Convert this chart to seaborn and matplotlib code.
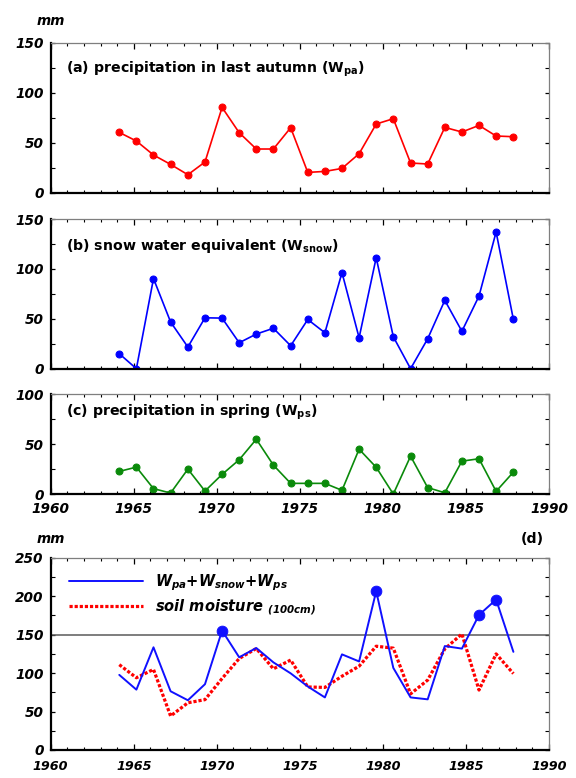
import matplotlib
matplotlib.use("Agg")
import matplotlib.pyplot as plt
from matplotlib.ticker import MultipleLocator
from matplotlib.lines import Line2D
import seaborn as sns
import pandas as pd

# ---------------- data ----------------
years = [1964.13, 1965.16, 1966.19, 1967.22, 1968.26, 1969.29, 1970.32, 1971.35,
         1972.38, 1973.41, 1974.45, 1975.48, 1976.51, 1977.54, 1978.57, 1979.60,
         1980.63, 1981.67, 1982.70, 1983.73, 1984.76, 1985.79, 1986.82, 1987.86]

w_pa = [60.3, 51.7, 37.7, 28.3, 18.0, 30.7, 85.3, 60.0, 43.7, 43.7, 65.0, 20.3,
        21.3, 24.3, 39.0, 68.7, 74.0, 29.7, 28.7, 65.3, 60.7, 67.3, 56.7, 56.0]

w_snow = [15.0, 0.0, 90.3, 46.8, 21.7, 51.0, 50.7, 26.0, 34.7, 40.5, 23.0, 49.3,
          36.0, 96.3, 31.0, 111.3, 32.0, 0.0, 30.0, 68.5, 37.5, 72.8, 137.0, 49.3]

w_ps = [22.7, 27.0, 5.4, 1.0, 25.0, 3.0, 19.7, 34.4, 55.0, 29.0, 10.7, 10.7,
        10.7, 3.7, 45.0, 26.8, 0.0, 38.0, 6.4, 1.3, 33.0, 35.4, 2.7, 22.0]

w_total = [97.7, 78.5, 133.6, 76.4, 64.7, 85.6, 155.3, 120.6, 132.7, 114.0, 99.7, 82.6,
           68.4, 124.4, 115.2, 206.6, 106.8, 68.4, 65.9, 135.2, 131.9, 175.7, 195.7, 127.7]

soil_moisture = [111.0, 94.0, 104.8, 44.2, 61.4, 65.5, 93.0, 119.0, 132.0, 105.6, 117.0, 82.0,
                 81.4, 96.0, 109.0, 135.0, 132.5, 73.0, 91.0, 131.5, 151.0, 78.0, 125.0, 99.4]

threshold = 150

titles = [r"(a) precipitation in last autumn (W$_{\mathrm{pa}}$)",
          r"(b) snow water equivalent (W$_{\mathrm{snow}}$)",
          r"(c) precipitation in spring (W$_{\mathrm{ps}}$)"]
legend_labels = [r"$W_{pa}$+$W_{snow}$+$W_{ps}$", r"soil moisture $\mathsf{_{(100cm)}}$"]

df = pd.DataFrame({"year": years, "pa": w_pa, "snow": w_snow, "ps": w_ps,
                   "total": w_total, "soil": soil_moisture})

# ---------------- style ----------------
sns.set_style("ticks")
plt.rcParams["font.family"] = ["DejaVu Sans"]
plt.rcParams["font.weight"] = "bold"
plt.rcParams["font.style"] = "italic"
plt.rcParams["text.color"] = "black"
plt.rcParams["axes.labelcolor"] = "black"
plt.rcParams["xtick.color"] = "black"
plt.rcParams["ytick.color"] = "black"
plt.rcParams["mathtext.fontset"] = "custom"
plt.rcParams["mathtext.rm"] = "DejaVu Sans:style=normal:weight=bold"
plt.rcParams["mathtext.it"] = "DejaVu Sans:style=italic:weight=bold"
plt.rcParams["mathtext.bf"] = "DejaVu Sans:style=normal:weight=bold"
plt.rcParams["mathtext.sf"] = "DejaVu Sans:style=italic:weight=bold"

fig = plt.figure(figsize=(5.76, 7.78), dpi=100)
L, W = 0.088, 0.865
ax_a = fig.add_axes([L, 0.7523, W, 0.1928])
ax_b = fig.add_axes([L, 0.5261, W, 0.1924])
ax_c = fig.add_axes([L, 0.3650, W, 0.1281])
ax_d = fig.add_axes([L, 0.0360, W, 0.2470])


def style_axes(ax, ymax, show_xlabels, xpad=6, xsize=9.8):
    ax.set_xlim(1960, 1990)
    ax.set_ylim(0, ymax)
    ax.xaxis.set_major_locator(MultipleLocator(5))
    ax.xaxis.set_minor_locator(MultipleLocator(1))
    ax.yaxis.set_major_locator(MultipleLocator(50))
    ax.yaxis.set_minor_locator(MultipleLocator(25))
    ax.tick_params(which="both", direction="in", top=True, right=True,
                   colors="black", labelsize=9.8)
    ax.tick_params(which="major", length=4.5, width=0.9)
    ax.tick_params(which="minor", length=2.5, width=0.8)
    ax.tick_params(axis="y", which="both", length=3, pad=5)
    ax.tick_params(axis="x", which="major", pad=xpad, labelsize=xsize)
    if not show_xlabels:
        ax.tick_params(axis="x", labelbottom=False)
    for s in ["left", "bottom"]:
        ax.spines[s].set_linewidth(1.6)
        ax.spines[s].set_color("black")
    for s in ["top", "right"]:
        ax.spines[s].set_linewidth(0.9)
        ax.spines[s].set_color("#7f7f7f")
    ax.set_xlabel("")
    ax.set_ylabel("")


panels = [(ax_a, "pa", "#ff0000", 150, titles[0]),
          (ax_b, "snow", "#0000ff", 150, titles[1]),
          (ax_c, "ps", "#0a8a0a", 100, titles[2])]
for ax, col, color, ymax, title in panels:
    sns.lineplot(data=df, x="year", y=col, ax=ax, color=color, lw=1.2,
                 marker="o", markersize=5, markeredgecolor=color, sort=False)
    style_axes(ax, ymax, ax is ax_c)
    ax.text(0.03, 0.82, title, transform=ax.transAxes, fontsize=10.2,
            fontweight="bold", fontstyle="normal", va="center", ha="left")

# panel d
ax_d.axhline(threshold, color="#5a5a5a", lw=1.1, zorder=1)
sns.lineplot(data=df, x="year", y="total", ax=ax_d, color="#1010ff", lw=1.4, sort=False, zorder=3)
sns.lineplot(data=df, x="year", y="soil", ax=ax_d, color="#ff0000", lw=2.3, sort=False,
             linestyle=(0, (1, 0.6)), zorder=2)
high = df[df["total"] > threshold]
sns.scatterplot(data=high, x="year", y="total", ax=ax_d, color="#1010ff", s=60,
                edgecolor="#1010ff", zorder=4, legend=False)
style_axes(ax_d, 250, True, xpad=7.5, xsize=9.2)

handles = [Line2D([], [], color="#1010ff", lw=1.4),
           Line2D([], [], color="#ff0000", lw=2.3, linestyle=(0, (1, 0.6)))]
ax_d.legend(handles, legend_labels, loc="upper left", bbox_to_anchor=(0.037, 0.925),
            frameon=False, borderpad=0, borderaxespad=0, handlelength=5.1,
            handletextpad=0.8, labelspacing=0.3,
            prop={"size": 10.5, "weight": "bold", "style": "italic"})

fig.text(0.089, 0.973, "mm", fontsize=9.8, ha="center", va="center")
fig.text(0.089, 0.307, "mm", fontsize=9.8, ha="center", va="center")
fig.text(0.925, 0.307, "(d)", fontsize=10.2, ha="center", va="center", fontstyle="normal")

fig.savefig("out.png", dpi=100)
